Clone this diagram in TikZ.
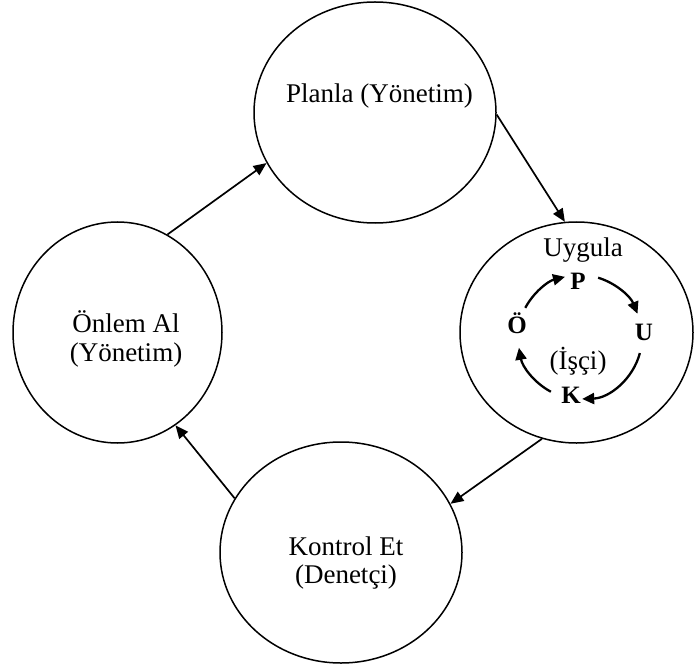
\documentclass[tikz,border=0pt]{standalone}
\usepackage{fontspec}
\setmainfont{Liberation Serif}
\usetikzlibrary{shapes.geometric,arrows.meta}
\begin{document}
\begin{tikzpicture}[x=1pt,y=-1pt,
  stage/.style={ellipse,draw,line width=1.5pt,inner sep=0pt},
  stagetext/.style={font=\fontsize{27}{28.5}\selectfont,align=center,inner sep=0pt},
  cycletext/.style={font=\fontsize{27}{28.5}\selectfont,inner sep=0pt,anchor=base},
  cycleletter/.style={font=\bfseries\fontsize{25}{26}\selectfont,inner sep=0pt,anchor=base},
  flow/.style={line width=1.7pt,-{Triangle[length=13pt,width=11pt]}},
  turn/.style={line width=2.3pt,-{Triangle[length=12pt,width=11pt]}}
]
\useasboundingbox (0,0) rectangle (695,668);

% the four stages of the cycle
\node[stage,minimum width=242pt,minimum height=221pt] (plan) at (375,112.5) {};
\node[stage,minimum width=233pt,minimum height=221pt] (do) at (576.5,332.5) {};
\node[stage,minimum width=242pt,minimum height=221pt] (check) at (341,552.5) {};
\node[stage,minimum width=209pt,minimum height=221pt] (act) at (117.5,332.5) {};

% stage captions
\node[cycletext] (plantext) at (379.5,103) {Planla (Yönetim)};
\node[stagetext] (acttext) at (126,339) {Önlem Al\\(Yönetim)};
\node[stagetext] (checktext) at (346,563) {Kontrol Et\\(Denetçi)};
\node[cycletext] (dotext) at (583,256) {Uygula};

% main flow between the stages
\draw[flow] (act.63.5) -- (plan.205.7);
\draw[flow] (plan.-1) -- (do.96);
\draw[flow] (do.252.9) -- (check.24.5);
\draw[flow] (check.153.2) -- (act.-58.9);

% the small cycle carried out by the worker
\coordinate (hub) at (580,337);
\node[cycleletter] (p) at (578,289) {P};
\node[cycleletter] (u) at (644,340) {U};
\node[cycleletter] (k) at (571,403) {K};
\node[cycleletter] (o) at (517,333) {Ö};
\node[cycletext] (worker) at (578,369) {(İşçi)};

\draw[turn] ([shift={(-152:62)}]hub) arc[start angle=-152,end angle=-104,radius=62];
\draw[turn] ([shift={(-73:62)}]hub) arc[start angle=-73,end angle=-22,radius=62];
\draw[turn] ([shift={(15:62)}]hub) arc[start angle=15,end angle=88,radius=62];
\draw[turn] ([shift={(118:62)}]hub) arc[start angle=118,end angle=170,radius=62];
\end{tikzpicture}
\end{document}
